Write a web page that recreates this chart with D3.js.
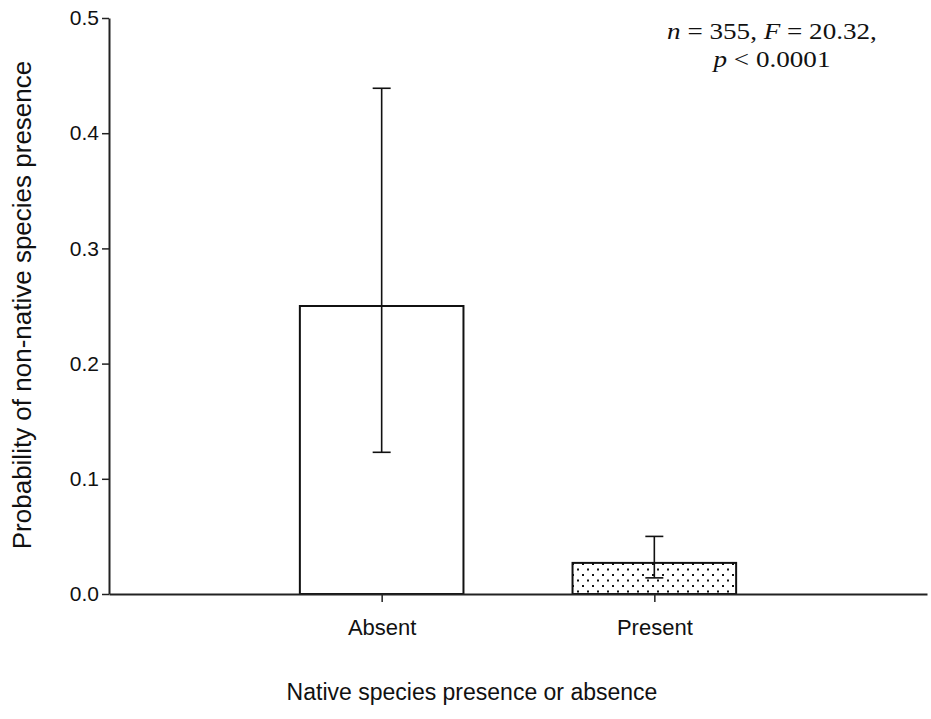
<!DOCTYPE html>
<html>
<head>
    <script src="https://d3js.org/d3.v7.min.js"></script>
    <style>
        body { margin: 0; background: #fff; }
        svg { display: block; }
    </style>
</head>
<body>
<div id="chart"></div>
<script>
    // data
    const categories = ["Absent", "Present"];
    const means = [0.25, 0.027];
    const errLow = [0.123, 0.014];
    const errHigh = [0.439, 0.050];
    const yTicks = [0.0, 0.1, 0.2, 0.3, 0.4, 0.5];

    const width = 931, height = 719;
    const margin = { top: 18, right: 4, bottom: 125, left: 109 };

    const svg = d3.select("#chart").append("svg")
        .attr("width", width)
        .attr("height", height);

    // dotted fill for the second bar
    const pat = svg.append("defs").append("pattern")
        .attr("id", "dots")
        .attr("patternUnits", "userSpaceOnUse")
        .attr("width", 10)
        .attr("height", 11);
    pat.append("rect").attr("width", 10).attr("height", 11).attr("fill", "#fff");
    pat.append("rect").attr("x", 2).attr("y", 2).attr("width", 2).attr("height", 2).attr("fill", "#111");
    pat.append("rect").attr("x", 7).attr("y", 7.5).attr("width", 2).attr("height", 2).attr("fill", "#111");

    const x = d3.scalePoint()
        .domain(categories)
        .range([margin.left, width - margin.right])
        .padding(1);
    const barW = x.step() * 0.6;

    const y = d3.scaleLinear()
        .domain([0, 0.5])
        .range([height - margin.bottom, margin.top]);

    const data = categories.map((c, i) => ({ key: c, mean: means[i], lo: errLow[i], hi: errHigh[i] }));

    // bars
    svg.selectAll(".bar")
        .data(data)
        .enter().append("rect")
        .attr("class", "bar")
        .attr("x", d => x(d.key) - barW / 2)
        .attr("y", d => y(d.mean))
        .attr("width", barW)
        .attr("height", d => y(0) - y(d.mean))
        .attr("fill", (d, i) => i === 0 ? "#fff" : "url(#dots)")
        .attr("stroke", "#111")
        .attr("stroke-width", 2);

    // error bars
    const capW = 9;
    const eb = svg.selectAll(".err").data(data).enter().append("g").attr("class", "err")
        .attr("stroke", "#111").attr("stroke-width", 1.6);
    eb.append("line")
        .attr("x1", d => x(d.key)).attr("x2", d => x(d.key))
        .attr("y1", d => y(d.lo)).attr("y2", d => y(d.hi));
    eb.append("line")
        .attr("x1", d => x(d.key) - capW).attr("x2", d => x(d.key) + capW)
        .attr("y1", d => y(d.hi)).attr("y2", d => y(d.hi));
    eb.append("line")
        .attr("x1", d => x(d.key) - capW).attr("x2", d => x(d.key) + capW)
        .attr("y1", d => y(d.lo)).attr("y2", d => y(d.lo));

    // axes
    const xAxis = svg.append("g")
        .attr("transform", "translate(0," + y(0) + ")")
        .call(d3.axisBottom(x).tickSize(8).tickPadding(17).tickSizeOuter(0));
    xAxis.select(".domain").attr("stroke", "#222").attr("stroke-width", 2);
    xAxis.selectAll(".tick line").attr("stroke", "#222").attr("stroke-width", 1.5);
    xAxis.selectAll("text")
        .style("font-family", "Liberation Sans, Arial, sans-serif")
        .style("font-size", "22px")
        .attr("fill", "#111");

    const yAxis = svg.append("g")
        .attr("transform", "translate(" + margin.left + ",0)")
        .call(d3.axisLeft(y).tickValues(yTicks).tickFormat(d3.format(".1f")).tickSize(7).tickPadding(3).tickSizeOuter(0));
    yAxis.select(".domain").attr("stroke", "#222").attr("stroke-width", 2);
    yAxis.selectAll(".tick line").attr("stroke", "#222").attr("stroke-width", 1.5);
    yAxis.selectAll("text")
        .style("font-family", "Liberation Sans, Arial, sans-serif")
        .style("font-size", "21px")
        .attr("fill", "#111");

    // axis titles
    svg.append("text")
        .attr("x", 472)
        .attr("y", 700)
        .attr("text-anchor", "middle")
        .style("font-family", "Liberation Sans, Arial, sans-serif")
        .style("font-size", "23px")
        .attr("fill", "#111")
        .text("Native species presence or absence");

    svg.append("text")
        .attr("transform", "translate(31," + 305 + ") rotate(-90)")
        .attr("text-anchor", "middle")
        .style("font-family", "Liberation Sans, Arial, sans-serif")
        .style("font-size", "26px")
        .attr("fill", "#111")
        .text("Probability of non-native species presence");

    // statistics note
    const note = svg.append("text")
        .attr("transform", "translate(772,0) scale(1.13,1)")
        .attr("text-anchor", "middle")
        .style("font-family", "Liberation Serif, Times New Roman, serif")
        .style("font-size", "24px")
        .attr("fill", "#111");
    const l1 = note.append("tspan").attr("x", 0).attr("y", 39);
    l1.append("tspan").style("font-style", "italic").text("n");
    l1.append("tspan").text(" = 355, ");
    l1.append("tspan").style("font-style", "italic").text("F");
    l1.append("tspan").text(" = 20.32,");
    const l2 = note.append("tspan").attr("x", 0).attr("y", 67);
    l2.append("tspan").style("font-style", "italic").text("p");
    l2.append("tspan").text(" < 0.0001");
</script>
</body>
</html>
